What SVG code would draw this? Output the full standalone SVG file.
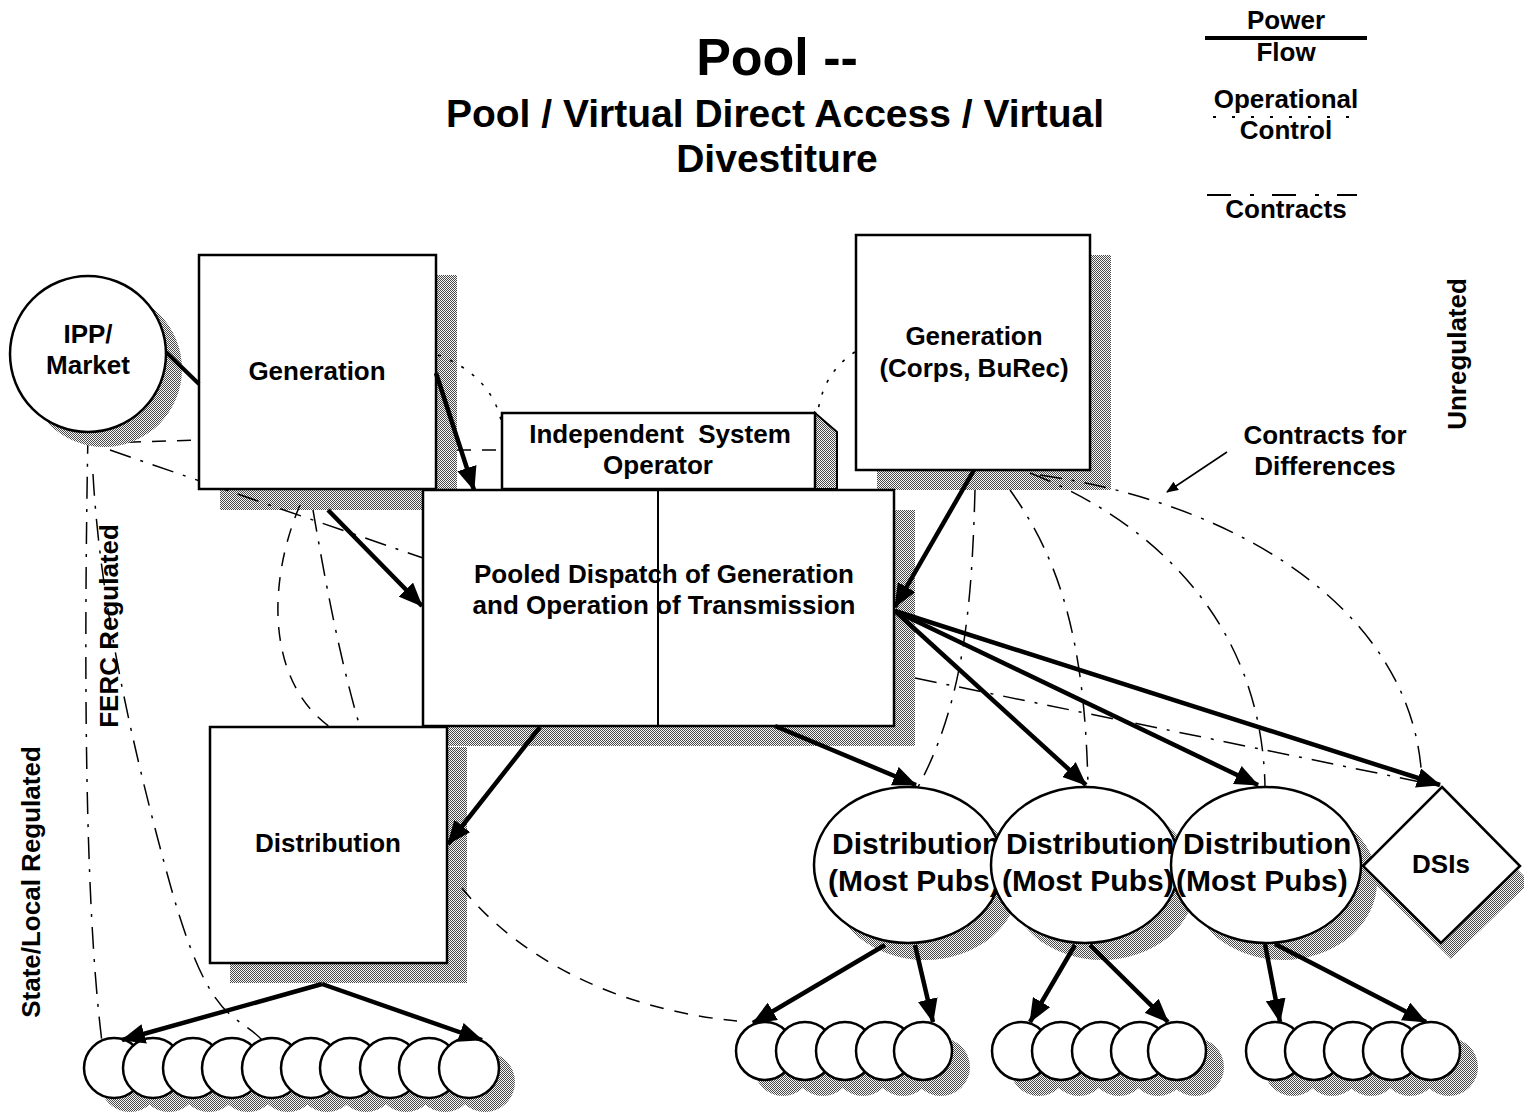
<svg xmlns="http://www.w3.org/2000/svg" width="1524" height="1117" viewBox="0 0 1524 1117">
  <defs>
    <!-- halftone fill used for drop shadows -->
    <pattern id="dither" width="2" height="2" patternUnits="userSpaceOnUse">
      <rect width="2" height="2" fill="#f6f6f6"/>
      <rect width="1" height="1" fill="#4a4a4a"/>
      <rect x="1" y="1" width="1" height="1" fill="#4a4a4a"/>
    </pattern>
    <marker id="head" markerUnits="userSpaceOnUse" markerWidth="24" markerHeight="20" viewBox="0 0 24 20" refX="23" refY="10" orient="auto">
      <path d="M0,0 L24,10 L0,20 z" fill="#000"/>
    </marker>
    <marker id="headSmall" markerUnits="userSpaceOnUse" markerWidth="12" markerHeight="10" viewBox="0 0 12 10" refX="11" refY="5" orient="auto">
      <path d="M0,0 L12,5 L0,10 z" fill="#000"/>
    </marker>
  </defs>
  <style>
    text { font-family: "Liberation Sans", Arial, Helvetica, sans-serif; font-weight: bold; fill: #000; }
    .lbl { font-size: 26px; text-anchor: middle; }
    .ell { font-size: 30px; }
    .box { fill: #fff; stroke: #000; stroke-width: 2.5; }
    .shadow { fill: url(#dither); stroke: none; }
    .small { fill: #fff; stroke: #000; stroke-width: 2.5; }
    .flow { fill: none; stroke: #000; stroke-width: 4.5; marker-end: url(#head); }
    .ctrl { fill: none; stroke: #000; stroke-width: 1.6; stroke-dasharray: 3 10; }
    .contract { fill: none; stroke: #000; stroke-width: 1.5; stroke-dasharray: 22 10 3 10; }
    .dash { fill: none; stroke: #000; stroke-width: 1.5; stroke-dasharray: 14 11; }
  </style>

  <rect width="1524" height="1117" fill="#fff"/>

  <!-- title -->
  <g id="title">
    <text x="777" y="75" font-size="52" text-anchor="middle">Pool --</text>
    <text x="775" y="127" font-size="39" text-anchor="middle">Pool / Virtual Direct Access / Virtual</text>
    <text x="777" y="172" font-size="39" text-anchor="middle">Divestiture</text>
  </g>

  <!-- line style key -->
  <g id="legend">
    <text class="lbl" x="1286" y="29" font-size="25">Power</text>
    <line x1="1205" y1="38" x2="1367" y2="38" stroke="#000" stroke-width="4"/>
    <text class="lbl" x="1286" y="61" font-size="25">Flow</text>
    <text class="lbl" x="1286" y="108" font-size="25">Operational</text>
    <line x1="1213" y1="117" x2="1364" y2="117" stroke="#000" stroke-width="1.8" stroke-dasharray="3 16"/>
    <text class="lbl" x="1286" y="139" font-size="25">Control</text>
    <line x1="1207" y1="195" x2="1357" y2="195" stroke="#000" stroke-width="1.8" stroke-dasharray="24 19 4 18"/>
    <text class="lbl" x="1286" y="218" font-size="25">Contracts</text>
  </g>

  <!-- side labels -->
  <g id="regions">
    <text class="lbl" transform="translate(1466,354) rotate(-90)" font-size="25">Unregulated</text>
    <text class="lbl" transform="translate(118,626) rotate(-90)" font-size="24">FERC Regulated</text>
    <text class="lbl" transform="translate(40,882) rotate(-90)" font-size="25">State/Local Regulated</text>
    <text class="lbl" x="1325" y="444">Contracts for</text>
    <text class="lbl" x="1325" y="475">Differences</text>
  </g>

  <!-- drop shadows of the boxes -->
  <g id="box-shadows">
    <rect class="shadow" x="220" y="275" width="237" height="235"/>
    <rect class="shadow" x="877" y="255" width="234" height="235"/>
    <rect class="shadow" x="444" y="510" width="471" height="236"/>
    <rect class="shadow" x="230" y="747" width="237" height="236"/>
  </g>

  <!-- contract and control lines -->
  <g id="connectors-thin">
    <path class="contract" d="M88,432 C84,650 84,900 102,1042"/>
    <path class="contract" d="M93,474 C100,600 130,740 170,884 S236,1012 262,1040"/>
    <path class="dash" d="M102,443 L199,440"/>
    <path class="contract" d="M110,450 L423,558"/>
    <path class="ctrl" d="M438,355 Q490,375 501,420"/>
    <path class="dash" d="M457,450 L502,450"/>
    <path class="ctrl" d="M855,352 Q824,372 818,411"/>
    <path class="dash" d="M300,505 C268,580 265,680 330,727"/>
    <path class="contract" d="M313,510 C325,580 340,660 360,727"/>
    <path class="dash" d="M462,888 C520,960 620,1010 737,1021"/>
    <path class="contract" d="M975,490 C972,600 965,700 918,787"/>
    <path class="contract" d="M1010,490 C1060,560 1085,640 1088,787"/>
    <path class="contract" d="M1030,473 C1150,520 1262,620 1265,787"/>
    <path class="contract" d="M1040,475 C1250,505 1420,620 1422,787"/>
    <path class="contract" d="M915,678 L1440,786"/>
    <path d="M1227,452 L1167,492" fill="none" stroke="#000" stroke-width="1.6" marker-end="url(#headSmall)"/>
  </g>

  <!-- nodes -->
  <g id="ipp-market">
    <circle class="shadow" cx="104" cy="369" r="78"/>
    <circle class="box" cx="88" cy="354" r="78" stroke-width="2"/>
    <text class="lbl" x="88" y="343">IPP/</text>
    <text class="lbl" x="88" y="374">Market</text>
  </g>

  <g id="pooled-dispatch">
    <rect class="box" x="423" y="490" width="471" height="236" stroke-width="2"/>
    <line x1="658" y1="490" x2="658" y2="726" stroke="#000" stroke-width="2"/>
    <text class="lbl" x="664" y="583">Pooled Dispatch of Generation</text>
    <text class="lbl" x="664" y="614">and Operation of Transmission</text>
  </g>

  <g id="iso">
    <polygon points="815,413 837,432 837,489 815,489" fill="url(#dither)" stroke="#000" stroke-width="2"/>
    <rect class="box" x="502" y="413" width="313" height="76" stroke-width="2"/>
    <text class="lbl" x="660" y="443" style="white-space:pre">Independent  System</text>
    <text class="lbl" x="658" y="474">Operator</text>
  </g>

  <g id="generation">
    <rect class="box" x="199" y="255" width="237" height="234" stroke-width="2"/>
    <text class="lbl" x="317" y="380">Generation</text>
  </g>

  <g id="generation-corps-burec">
    <rect class="box" x="856" y="235" width="234" height="235" stroke-width="2"/>
    <text class="lbl" x="974" y="345">Generation</text>
    <text class="lbl" x="974" y="377">(Corps, BuRec)</text>
  </g>

  <g id="distribution">
    <rect class="box" x="210" y="727" width="237" height="236" stroke-width="3"/>
    <text class="lbl" x="328" y="852">Distribution</text>
  </g>

  <g id="pub-distribution">
    <ellipse class="shadow" cx="925" cy="882" rx="94" ry="78"/>
    <ellipse class="shadow" cx="1102" cy="882" rx="94" ry="78"/>
    <ellipse class="shadow" cx="1283" cy="882" rx="94" ry="78"/>
    <g id="pub-1">
      <ellipse class="box" cx="908" cy="865" rx="94" ry="78" stroke-width="2"/>
      <text class="ell" x="832" y="854">Distribution</text>
      <text class="ell" x="828" y="891">(Most Pubs)</text>
    </g>
    <g id="pub-2">
      <ellipse class="box" cx="1085" cy="865" rx="94" ry="78" stroke-width="2"/>
      <text class="ell" x="1006" y="854">Distribution</text>
      <text class="ell" x="1002" y="891">(Most Pubs)</text>
    </g>
    <g id="pub-3">
      <ellipse class="box" cx="1266" cy="865" rx="95" ry="78" stroke-width="2"/>
      <text class="ell" x="1183" y="854">Distribution</text>
      <text class="ell" x="1176" y="891">(Most Pubs)</text>
    </g>
  </g>

  <g id="dsis">
    <polygon class="shadow" points="1452,803 1530,882 1451,959 1373,882"/>
    <polygon class="box" points="1442,787 1520,866 1441,943 1363,866" stroke-width="2"/>
    <text class="lbl" x="1441" y="873">DSIs</text>
  </g>

  <!-- customer rows -->
  <g id="customers-distribution">
    <g class="shadow">
      <circle cx="130" cy="1082" r="30"/><circle cx="169" cy="1082" r="30"/><circle cx="209" cy="1082" r="30"/>
      <circle cx="248" cy="1082" r="30"/><circle cx="288" cy="1082" r="30"/><circle cx="327" cy="1082" r="30"/>
      <circle cx="366" cy="1082" r="30"/><circle cx="406" cy="1082" r="30"/><circle cx="445" cy="1082" r="30"/>
      <circle cx="485" cy="1082" r="30"/>
    </g>
    <circle class="small" cx="114" cy="1068" r="30"/><circle class="small" cx="153" cy="1068" r="30"/>
    <circle class="small" cx="193" cy="1068" r="30"/><circle class="small" cx="232" cy="1068" r="30"/>
    <circle class="small" cx="272" cy="1068" r="30"/><circle class="small" cx="311" cy="1068" r="30"/>
    <circle class="small" cx="350" cy="1068" r="30"/><circle class="small" cx="390" cy="1068" r="30"/>
    <circle class="small" cx="429" cy="1068" r="30"/><circle class="small" cx="469" cy="1068" r="30"/>
  </g>

  <g id="customers-pub-1">
    <g class="shadow">
      <circle cx="783" cy="1067" r="29"/><circle cx="823" cy="1067" r="29"/><circle cx="863" cy="1067" r="29"/>
      <circle cx="903" cy="1067" r="29"/><circle cx="941" cy="1067" r="29"/>
    </g>
    <circle class="small" cx="765" cy="1051" r="29"/><circle class="small" cx="805" cy="1051" r="29"/>
    <circle class="small" cx="845" cy="1051" r="29"/><circle class="small" cx="885" cy="1051" r="29"/>
    <circle class="small" cx="923" cy="1051" r="29"/>
  </g>

  <g id="customers-pub-2">
    <g class="shadow">
      <circle cx="1039" cy="1067" r="29"/><circle cx="1079" cy="1067" r="29"/><circle cx="1119" cy="1067" r="29"/>
      <circle cx="1158" cy="1067" r="29"/><circle cx="1195" cy="1067" r="29"/>
    </g>
    <circle class="small" cx="1021" cy="1051" r="29"/><circle class="small" cx="1061" cy="1051" r="29"/>
    <circle class="small" cx="1101" cy="1051" r="29"/><circle class="small" cx="1140" cy="1051" r="29"/>
    <circle class="small" cx="1177" cy="1051" r="29"/>
  </g>

  <g id="customers-pub-3">
    <g class="shadow">
      <circle cx="1293" cy="1067" r="29"/><circle cx="1332" cy="1067" r="29"/><circle cx="1371" cy="1067" r="29"/>
      <circle cx="1410" cy="1067" r="29"/><circle cx="1449" cy="1067" r="29"/>
    </g>
    <circle class="small" cx="1275" cy="1051" r="29"/><circle class="small" cx="1314" cy="1051" r="29"/>
    <circle class="small" cx="1353" cy="1051" r="29"/><circle class="small" cx="1392" cy="1051" r="29"/>
    <circle class="small" cx="1431" cy="1051" r="29"/>
  </g>

  <!-- power flow -->
  <g id="connectors-power">
    <line x1="166" y1="352" x2="199" y2="384" stroke="#000" stroke-width="4"/>
    <path class="flow" d="M436,373 L474,490"/>
    <path class="flow" d="M328,510 L422,606"/>
    <path class="flow" d="M974,470 L895,607"/>
    <path class="flow" d="M895,611 L1086,785"/>
    <path class="flow" d="M895,611 L1258,785"/>
    <path class="flow" d="M895,611 L1440,785"/>
    <path class="flow" d="M775,726 L916,785"/>
    <path class="flow" d="M540,727 L448,844"/>
    <path class="flow" d="M322,984 L122,1040"/>
    <path class="flow" d="M322,984 L482,1040"/>
    <path class="flow" d="M885,945 L753,1023"/>
    <path class="flow" d="M915,945 L933,1022"/>
    <path class="flow" d="M1075,945 L1030,1022"/>
    <path class="flow" d="M1090,945 L1168,1022"/>
    <path class="flow" d="M1265,944 L1280,1022"/>
    <path class="flow" d="M1275,944 L1426,1022"/>
  </g>
</svg>
